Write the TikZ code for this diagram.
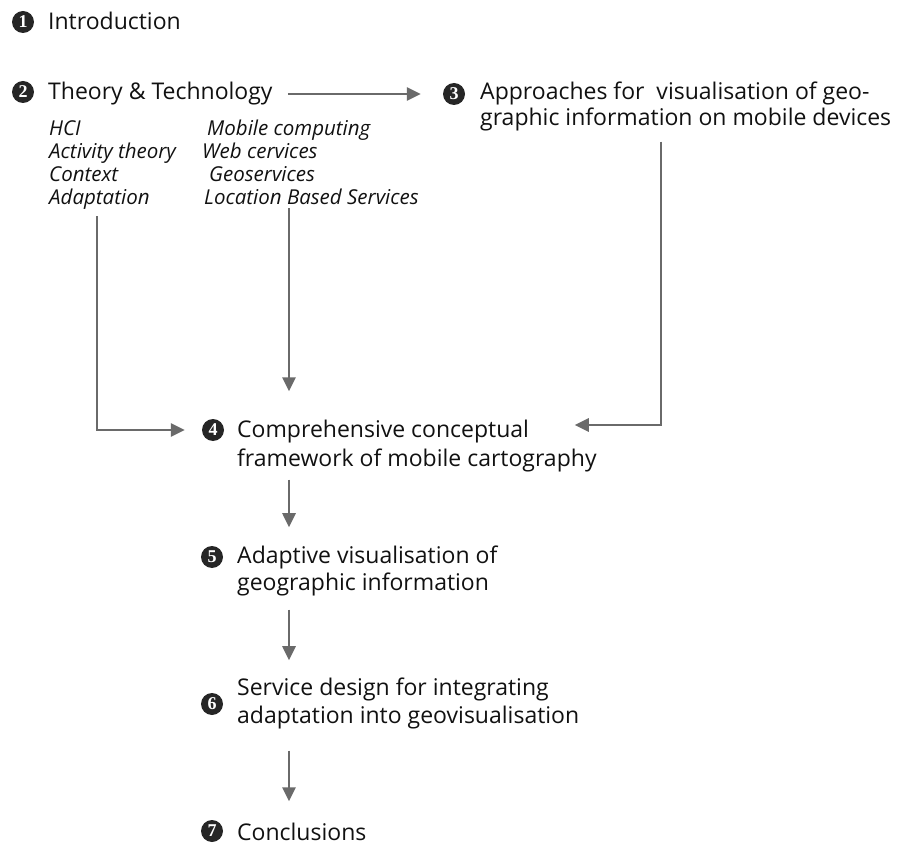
\documentclass[tikz,border=0pt]{standalone}
\usepackage{fontspec}
\setmainfont{Open Sans}
\newfontfamily\digitfont{Liberation Serif}
\usetikzlibrary{arrows.meta}
\definecolor{ink}{HTML}{111111}
\definecolor{numfill}{HTML}{262626}
\definecolor{arrowgray}{HTML}{6A6A6A}
\begin{document}
\begin{tikzpicture}[x=1pt,y=-1pt,
  num/.style={circle, fill=numfill, inner sep=0pt, minimum size=22pt, text=white,
    font=\digitfont\bfseries\fontsize{18}{18}\selectfont},
  lbl/.style={anchor=base west, inner sep=0pt, text=ink, align=left,
    font=\fontsize{23}{28}\selectfont},
  topic/.style={anchor=base west, inner sep=0pt, text=ink,
    font=\itshape\fontsize{20.5}{23}\selectfont},
  flow/.style={draw=arrowgray, line width=2.7pt,
    -{Triangle[length=14pt,width=13pt]}},
]
\useasboundingbox (0,0) rectangle (908,850);

% rails along which the connectors run
\coordinate (lrail) at (97,0);
\coordinate (spine) at (289,0);
\coordinate (rrail) at (661,0);

% chapter headings (multi-line labels are placed by their last baseline)
\node[num] (n1) at (23,22) {1};
\node[lbl] (t1) at (48,30) {Introduction};

\node[num] (n2) at (23,92) {2};
\node[lbl] (t2) at (48,100) {Theory \& Technology};

\node[num] (n3) at (454,94) {3};
\node[lbl, font=\fontsize{23}{26}\selectfont] (t3) at (480,126)
  {Approaches for \ visualisation of geo-\\graphic information on mobile devices};

% topics of chapter 2
\node[topic] (hci)   at (49,136)  {HCI};
\node[topic] (act)   at (49,159)  {Activity theory};
\node[topic] (ctx)   at (49,182)  {Context};
\node[topic] (adapt) at (49,205)  {Adaptation};
\node[topic] (mob)   at (207,136) {Mobile computing};
\node[topic] (web)   at (202,159) {Web cervices};
\node[topic] (geo)   at (209,182) {Geoservices};
\node[topic] (lbs)   at (204,205) {Location Based Services};

\node[num] (n4) at (213,430) {4};
\node[lbl, font=\fontsize{23}{29}\selectfont] (t4) at (237,466)
  {Comprehensive conceptual\\framework of mobile cartography};

\node[num] (n5) at (212,557) {5};
\node[lbl, font=\fontsize{23}{27}\selectfont] (t5) at (237,590)
  {Adaptive visualisation of\\geographic information};

\node[num] (n6) at (212,704) {6};
\node[lbl, font=\fontsize{23}{28}\selectfont] (t6) at (237,723)
  {Service design for integrating\\adaptation into geovisualisation};

\node[num] (n7) at (212,831) {7};
\node[lbl] (t7) at (237,840) {Conclusions};

% connectors
\draw[flow, shorten <=15pt, shorten >=22pt] (t2.east |- n3) -- (n3);
\draw[flow, shorten <=6pt, shorten >=17pt] (adapt.south -| lrail) |- (n4);
\draw[flow, shorten <=3pt, shorten >=28pt] (lbs.south -| spine) -- (t4.north -| spine);
\draw[flow, shorten <=10pt] (t3.south -| rrail) |- ([xshift=-22pt, yshift=5pt]t4.east |- n4);
\draw[flow, shorten <=8pt, shorten >=18pt] (t4.south -| spine) -- (t5.north -| spine);
\draw[flow, shorten <=14pt, shorten >=17pt] (t5.south -| spine) -- (t6.north -| spine);
\draw[flow, shorten <=22pt, shorten >=21pt] (t6.south -| spine) -- (t7.north -| spine);
\end{tikzpicture}
\end{document}
